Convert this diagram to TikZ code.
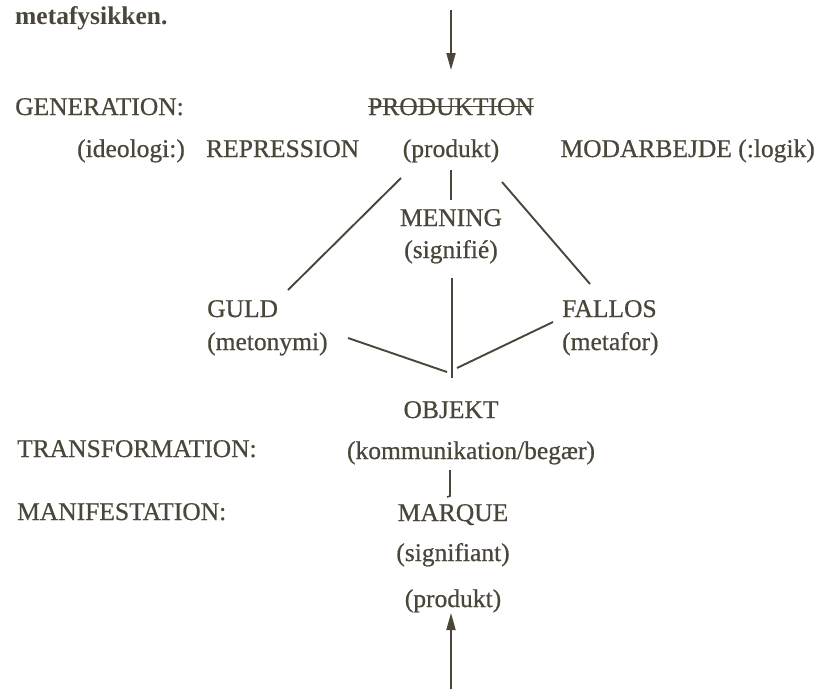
\documentclass[tikz,border=0pt]{standalone}
\usepackage{fontspec}
\setmainfont{Liberation Serif}[FakeBold=0.6]
\newfontfamily\boldserif{Liberation Serif Bold}
\usetikzlibrary{arrows.meta}
\definecolor{ink}{RGB}{74,70,58}
\begin{document}
\begin{tikzpicture}[x=1pt,y=1pt,
  lbl/.style={inner sep=0pt, text=ink, font=\fontsize{25.5}{30}\selectfont},
  boldlbl/.style={inner sep=0pt, text=ink, font=\fontsize{25.5}{30}\selectfont\boldserif},
  conn/.style={draw=ink, line width=1.9pt},
  arr/.style={conn, -{Triangle[length=17pt,width=9pt]}}]
\fill[white] (0,0) rectangle (819,-689);
\useasboundingbox (0,0) rectangle (819,-689);
% texts
\node[boldlbl, anchor=base west] (meta) at (15,-24) {metafysikken.};
\node[lbl, anchor=base west] (gen) at (15,-115) {GENERATION:};
\node[lbl, anchor=base] (prod) at (451,-115) {PRODUKTION};
\node[lbl, anchor=base west] (ideo) at (77,-157) {(ideologi:)};
\node[lbl, anchor=base west] (rep) at (206,-157) {REPRESSION};
\node[lbl, anchor=base] (produkt) at (451,-157) {(produkt)};
\node[lbl, anchor=base east] (mod) at (815,-157) {MODARBEJDE (:logik)};
\node[lbl, anchor=base] (mening) at (451,-226) {MENING};
\node[lbl, anchor=base] (signifie) at (451,-258) {(signifié)};
\node[lbl, anchor=base west] (guld) at (207,-317) {GULD};
\node[lbl, anchor=base west] (meto) at (207,-350) {(metonymi)};
\node[lbl, anchor=base west] (fallos) at (562,-317) {FALLOS};
\node[lbl, anchor=base west] (metafor) at (562,-350) {(metafor)};
\node[lbl, anchor=base] (objekt) at (451,-418) {OBJEKT};
\node[lbl, anchor=base west] (trans) at (17,-457) {TRANSFORMATION:};
\node[lbl, anchor=base] (komm) at (471,-459) {(kommunikation/begær)};
\node[lbl, anchor=base west] (manif) at (17,-520) {MANIFESTATION:};
\node[lbl, anchor=base] (marque) at (453,-521) {MARQUE};
\node[lbl, anchor=base] (signifiant) at (453,-561) {(signifiant)};
\node[lbl, anchor=base] (produkt2) at (453,-607) {(produkt)};
% strike through PRODUKTION
\draw[conn, line width=1.6pt] ([yshift=8.5pt]prod.base west) -- ([yshift=8.5pt]prod.base east);
% connector end points
\coordinate (topstart) at (451,-10);
\coordinate (toptip) at (451,-70);
\coordinate (p1) at (451,-170);
\coordinate (p2) at (451,-200);
\coordinate (l1) at (401,-178);
\coordinate (l2) at (288,-290);
\coordinate (r1) at (502,-182);
\coordinate (r2) at (590,-284);
\coordinate (v1) at (452,-278);
\coordinate (v2) at (452,-378);
\coordinate (ml1) at (348,-338);
\coordinate (ml2) at (447,-372);
\coordinate (mr1) at (457,-368);
\coordinate (mr2) at (553,-322);
\coordinate (s1) at (450,-470);
\coordinate (s2) at (450,-496);
\coordinate (s3) at (447,-497);
\coordinate (botstart) at (451,-689);
\coordinate (bottip) at (451,-613);
% connectors
\draw[arr] (topstart) -- (toptip);
\draw[conn] (p1) -- (p2);
\draw[conn] (l1) -- (l2);
\draw[conn] (r1) -- (r2);
\draw[conn] (v1) -- (v2);
\draw[conn] (ml1) -- (ml2);
\draw[conn] (mr1) -- (mr2);
\draw[conn, line width=1.6pt] (s1) -- (s2) -- (s3);
\draw[arr] (botstart) -- (bottip);
\end{tikzpicture}
\end{document}
